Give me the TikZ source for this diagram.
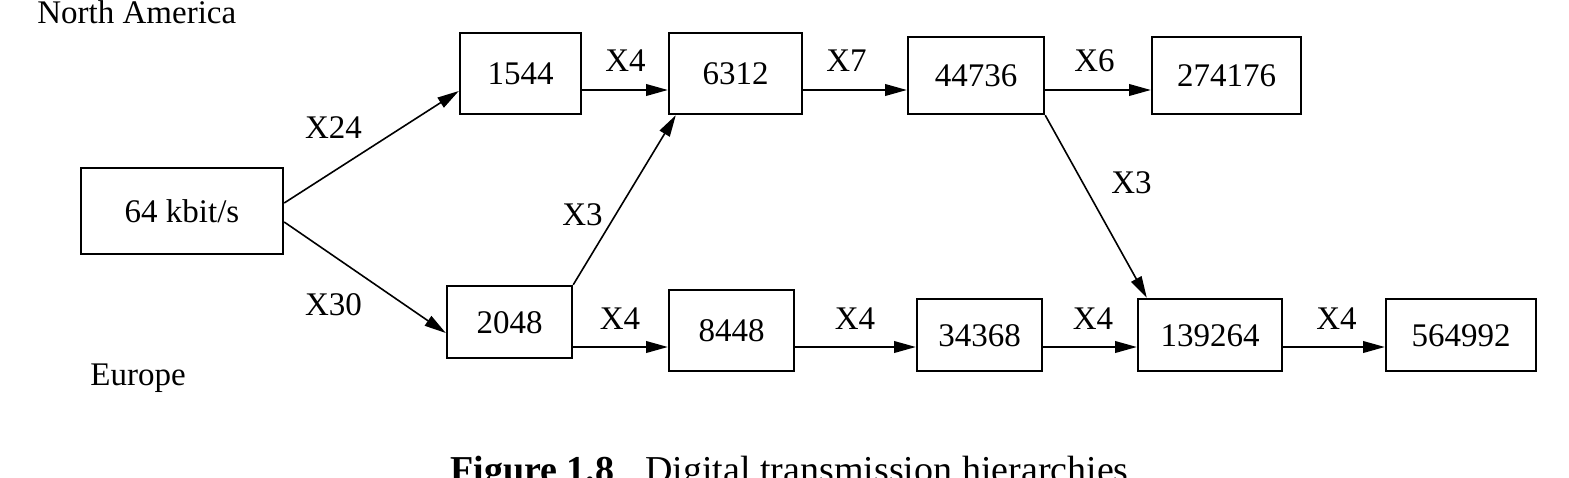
\documentclass[tikz,border=0pt]{standalone}
\usepackage{fontspec}
\setmainfont{Liberation Serif}
\usetikzlibrary{arrows.meta}
\begin{document}
\begin{tikzpicture}[x=0.5pt,y=-0.5pt,
  box/.style={draw, line width=1.2pt, font=\fontsize{16.5pt}{18pt}\selectfont,
    text height=11.1pt, text depth=0pt, inner sep=0pt},
  lbl/.style={font=\fontsize{16.5pt}{18pt}\selectfont, inner sep=0pt, anchor=base},
  arr/.style={line width=0.8pt, -{Triangle[length=10.8pt,width=5.8pt]}},
]
\useasboundingbox (0,0) rectangle (1569,477);
\clip (0,0) rectangle (1569,477);

% boxes
\node[box, minimum width=101pt,  minimum height=43pt]   (n64)     at (182,211)    {64 kbit/s};
\node[box, minimum width=60.5pt, minimum height=40.5pt] (n1544)   at (520.5,73.5) {1544};
\node[box, minimum width=66.5pt, minimum height=40.5pt] (n6312)   at (735.5,73.5) {6312};
\node[box, minimum width=68pt,   minimum height=38.5pt] (n44736)  at (976,75.5)   {44736};
\node[box, minimum width=74.5pt, minimum height=38.5pt] (n274176) at (1226.5,75.5){274176};
\node[box, minimum width=62.5pt, minimum height=36pt]   (n2048)   at (509.5,322)  {2048};
\node[box, minimum width=62.5pt, minimum height=40.5pt] (n8448)   at (731.5,330.5){8448};
\node[box, minimum width=62.5pt, minimum height=36pt]   (n34368)  at (979.5,335)  {34368};
\node[box, minimum width=72pt,   minimum height=36pt]   (n139264) at (1210,335)   {139264};
\node[box, minimum width=75pt,   minimum height=36pt]   (n564992) at (1461,335)   {564992};

% reference levels for horizontal arrows
\coordinate (ytop) at (0,90);
\coordinate (ybot) at (0,347);

% connectors
\draw[arr] ([yshift=4pt]n64.east) -- ([yshift=-8.75pt]n1544.west);
\draw[arr] ([yshift=-5.5pt]n64.east) -- ([yshift=-5.5pt]n2048.west);
\draw[arr] (n1544.east |- ytop) -- (n6312.west |- ytop);
\draw[arr] (n6312.east |- ytop) -- (n44736.west |- ytop);
\draw[arr] (n44736.east |- ytop) -- (n274176.west |- ytop);
\draw[arr] (n2048.north east) -- ([xshift=4pt]n6312.south west);
\draw[arr] (n44736.south east) -- ([xshift=5pt]n139264.north west);
\draw[arr] (n2048.east |- ybot) -- (n8448.west |- ybot);
\draw[arr] (n8448.east |- ybot) -- (n34368.west |- ybot);
\draw[arr] (n34368.east |- ybot) -- (n139264.west |- ybot);
\draw[arr] (n139264.east |- ybot) -- (n564992.west |- ybot);

% labels
\node[lbl] (l24)  at (333.5,138) {X24};
\node[lbl] (l30)  at (333.5,315) {X30};
\node[lbl] (lt1)  at (625.5,71)  {X4};
\node[lbl] (lt2)  at (846.5,71)  {X7};
\node[lbl] (lt3)  at (1094.5,71) {X6};
\node[lbl] (ld1)  at (582.5,225) {X3};
\node[lbl] (ld2)  at (1131.5,193){X3};
\node[lbl] (lb1)  at (620,329)   {X4};
\node[lbl] (lb2)  at (855,329)   {X4};
\node[lbl] (lb3)  at (1093,329)  {X4};
\node[lbl] (lb4)  at (1336.5,329){X4};

\node[lbl, anchor=base west] (na) at (37,23)  {North America};
\node[lbl, anchor=base west] (eu) at (90,385) {Europe};

\node[anchor=base west, inner sep=0pt, font=\fontsize{19pt}{22pt}\selectfont] (cap) at (450,482)
  {\textbf{Figure 1.8}\hspace{15.5pt}Digital transmission hierarchies};
\end{tikzpicture}
\end{document}
